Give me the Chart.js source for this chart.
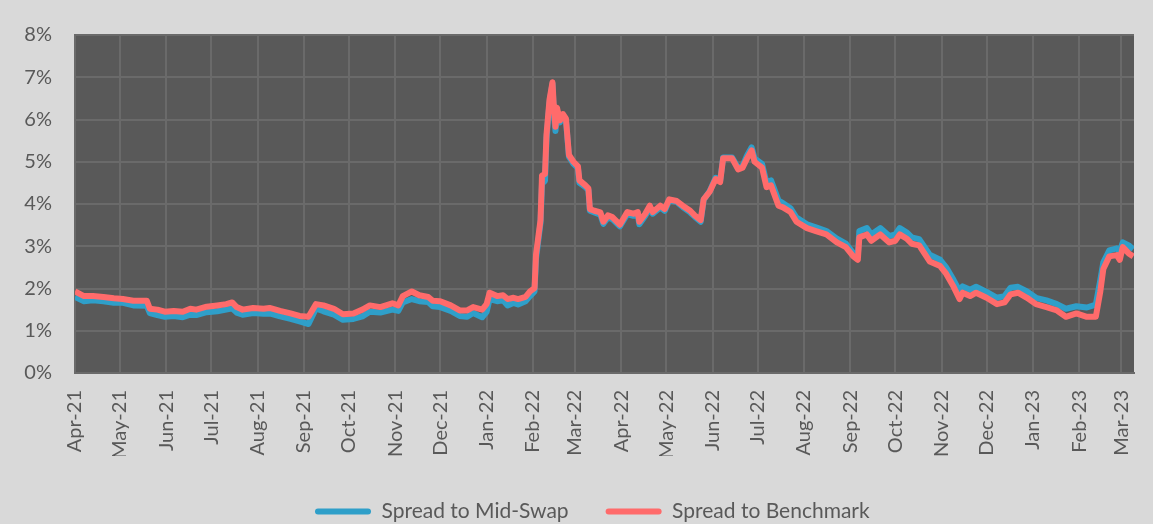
<!DOCTYPE html>
<html lang="en">
<head>
<meta charset="UTF-8">
<title>Spread to Mid-Swap vs Spread to Benchmark</title>
<script src="https://cdn.jsdelivr.net/npm/chart.js"></script>
<style>
  html, body { margin: 0; padding: 0; background: #d9d9d9; }
  #wrap { position: relative; width: 1153px; height: 524px; }
</style>
</head>
<body>
<div id="wrap"><canvas id="spreadChart"></canvas></div>
<script>
// Month tick labels (first of each month, starting 1 Apr 2021)
const monthLabels = ['Apr-21','May-21','Jun-21','Jul-21','Aug-21','Sep-21','Oct-21','Nov-21','Dec-21',
  'Jan-22','Feb-22','Mar-22','Apr-22','May-22','Jun-22','Jul-22','Aug-22','Sep-22','Oct-22','Nov-22',
  'Dec-22','Jan-23','Feb-23','Mar-23'];

// Sample dates, as days since 1 Apr 2021
const days = [0,6,12,19,26,32,39,48,50,55,60,66,72,77,81,88,95,101,105,108,112,119,126,130,137,144,150,156,
  161,166,173,179,186,192,197,204,212,216,219,225,230,236,239,244,251,257,262,266,272,275,277,282,286,289,
  293,296,301,304,307,308,311,312,314,315,317,319,320,321,322,324,326,328,330,333,336,337,341,343,344,347,
  351,353,356,359,364,369,373,376,377,381,384,386,391,394,397,402,406,411,414,418,420,424,428,431,433,439,
  443,446,449,452,454,459,462,465,470,473,478,482,489,495,502,509,515,520,523,524,529,532,538,544,548,551,
  556,559,564,571,578,582,587,591,593,598,602,609,616,621,625,630,636,642,649,656,662,669,676,682,685,687,
  691,696,698,700,704,707];

// Spread to Mid-Swap (%)
const midSwap = [1.80,1.70,1.72,1.70,1.66,1.66,1.60,1.59,1.42,1.37,1.33,1.35,1.32,1.38,1.37,1.44,1.46,1.50,1.53,
  1.43,1.38,1.42,1.40,1.41,1.34,1.28,1.22,1.16,1.53,1.46,1.38,1.26,1.28,1.34,1.45,1.43,1.50,1.47,1.67,1.75,
  1.70,1.68,1.58,1.56,1.47,1.35,1.33,1.42,1.32,1.45,1.75,1.70,1.72,1.60,1.66,1.62,1.70,1.82,1.93,2.70,3.55,
  4.48,4.55,5.55,6.40,6.85,6.10,5.73,6.20,5.93,6.10,5.98,5.12,4.95,4.85,4.50,4.40,4.33,3.84,3.80,3.75,3.53,
  3.68,3.64,3.47,3.76,3.72,3.75,3.52,3.72,3.90,3.77,3.92,3.84,4.08,4.05,3.93,3.80,3.70,3.58,4.10,4.30,4.62,
  4.55,5.10,5.10,4.86,4.90,5.15,5.34,5.08,4.95,4.50,4.56,4.08,4.02,3.90,3.68,3.52,3.45,3.36,3.18,3.06,2.84,
  2.79,3.36,3.43,3.28,3.43,3.24,3.28,3.43,3.32,3.21,3.17,2.80,2.68,2.50,2.20,1.93,2.05,1.97,2.04,1.92,1.78,
  1.82,2.02,2.04,1.93,1.78,1.72,1.63,1.52,1.58,1.55,1.62,2.20,2.62,2.90,2.95,2.88,3.09,3.02,2.93];

// Spread to Benchmark (%)
const benchmark = [1.93,1.82,1.82,1.80,1.77,1.75,1.71,1.71,1.52,1.50,1.45,1.47,1.45,1.52,1.50,1.57,1.60,1.63,1.67,
  1.56,1.50,1.54,1.52,1.54,1.47,1.41,1.35,1.33,1.63,1.60,1.52,1.39,1.41,1.50,1.60,1.56,1.65,1.60,1.82,1.93,
  1.84,1.80,1.71,1.70,1.60,1.48,1.48,1.56,1.50,1.63,1.90,1.82,1.84,1.75,1.78,1.75,1.80,1.93,2.01,2.80,3.62,
  4.67,4.71,5.64,6.47,6.88,6.24,5.83,6.28,5.98,6.13,6.02,5.16,5.00,4.89,4.56,4.44,4.37,3.88,3.84,3.80,3.58,
  3.73,3.69,3.51,3.81,3.77,3.81,3.58,3.77,3.96,3.81,3.96,3.88,4.11,4.07,3.96,3.84,3.73,3.62,4.11,4.29,4.59,
  4.52,5.08,5.08,4.82,4.86,5.08,5.27,5.00,4.86,4.40,4.44,3.96,3.92,3.81,3.58,3.43,3.36,3.28,3.09,2.98,2.76,
  2.68,3.21,3.28,3.13,3.28,3.09,3.13,3.28,3.17,3.06,3.02,2.64,2.53,2.35,2.04,1.75,1.90,1.82,1.90,1.78,1.63,
  1.67,1.86,1.90,1.78,1.63,1.56,1.48,1.33,1.41,1.33,1.33,1.93,2.46,2.76,2.79,2.68,2.98,2.83,2.76];

const yTicks = [0,1,2,3,4,5,6,7,8];

const DAY = 86400000;
const start = Date.UTC(2021, 3, 1);
const monthDays = monthLabels.map((m, i) => Math.round((Date.UTC(2021, 3 + i, 1) - start) / DAY));

const textColor = '#595959';
const gridColor = '#6a6a6a';
const font = { family: 'Lato', size: 20 };

const toPoints = vals => days.map((d, i) => ({ x: d, y: vals[i] }));

// paint the outer background and the dark plot area
const backgroundPlugin = {
  id: 'bg',
  beforeDraw(chart) {
    const { ctx, chartArea: a } = chart;
    ctx.save();
    ctx.fillStyle = '#d9d9d9';
    ctx.fillRect(0, 0, chart.width, chart.height);
    ctx.fillStyle = '#595959';
    ctx.fillRect(a.left, a.top, a.right - a.left, a.bottom - a.top);
    ctx.restore();
  }
};

// move the legend so it starts where the original one does
const legendPlacePlugin = {
  id: 'legendPlace',
  afterLayout(chart) {
    const lg = chart.legend;
    if (!lg || !lg.lineWidths) return;
    const pad = lg.options.labels.padding;
    const x0 = (lg.left + pad + lg.right - lg.lineWidths[0]) / 2;
    const dx = 315 - x0;
    lg.left += dx;
    lg.right += dx;
    lg.top += 8;
    lg.bottom += 8;
  }
};

new Chart(document.getElementById('spreadChart'), {
  type: 'line',
  data: {
    datasets: [
      {
        label: 'Spread to Mid-Swap',
        data: toPoints(midSwap),
        borderColor: '#2f9fc9',
        backgroundColor: '#2f9fc9',
        borderWidth: 6,
        pointRadius: 0,
        tension: 0,
        borderJoinStyle: 'round',
        order: 1
      },
      {
        label: 'Spread to Benchmark',
        data: toPoints(benchmark),
        borderColor: '#ff6b6b',
        backgroundColor: '#ff6b6b',
        borderWidth: 6,
        pointRadius: 0,
        tension: 0,
        borderJoinStyle: 'round',
        order: 0
      }
    ]
  },
  options: {
    responsive: true,
    maintainAspectRatio: false,
    animation: false,
    layout: { padding: { left: 0, right: 19, top: 17, bottom: 0 } },
    plugins: {
      tooltip: { enabled: false },
      legend: {
        position: 'bottom',
        labels: {
          font: { family: 'Lato', size: 21 },
          color: textColor,
          boxWidth: 56,
          boxHeight: 6,
          useBorderRadius: true,
          borderRadius: 3,
          padding: 37,
          sort: (a, b) => a.datasetIndex - b.datasetIndex,
          generateLabels: chart => Chart.defaults.plugins.legend.labels.generateLabels(chart)
            .map(l => Object.assign(l, { lineWidth: 0 }))
        }
      }
    },
    scales: {
      x: {
        type: 'linear',
        min: 0,
        max: 707.5,
        afterBuildTicks: s => { s.ticks = monthDays.map(v => ({ value: v })); },
        afterFit: s => {
          s.height = 524 - 373 - (s.chart.legend ? s.chart.legend.height : 0);
          s.paddingLeft = 0;
          s.paddingRight = 0;
        },
        ticks: {
          autoSkip: false,
          minRotation: 90,
          maxRotation: 90,
          padding: 17,
          color: textColor,
          font: font,
          callback: v => monthLabels[monthDays.indexOf(v)]
        },
        grid: { color: gridColor, lineWidth: 2, drawTicks: false },
        border: { color: gridColor, width: 2 }
      },
      y: {
        min: 0,
        max: 8,
        afterBuildTicks: s => { s.ticks = yTicks.map(v => ({ value: v })); },
        afterFit: s => { s.width = 75; },
        ticks: {
          padding: 23,
          color: textColor,
          font: font,
          callback: v => v + '%'
        },
        grid: { color: gridColor, lineWidth: 2, drawTicks: false },
        border: { color: gridColor, width: 2 }
      }
    }
  },
  plugins: [backgroundPlugin, legendPlacePlugin]
});
</script>
</body>
</html>
